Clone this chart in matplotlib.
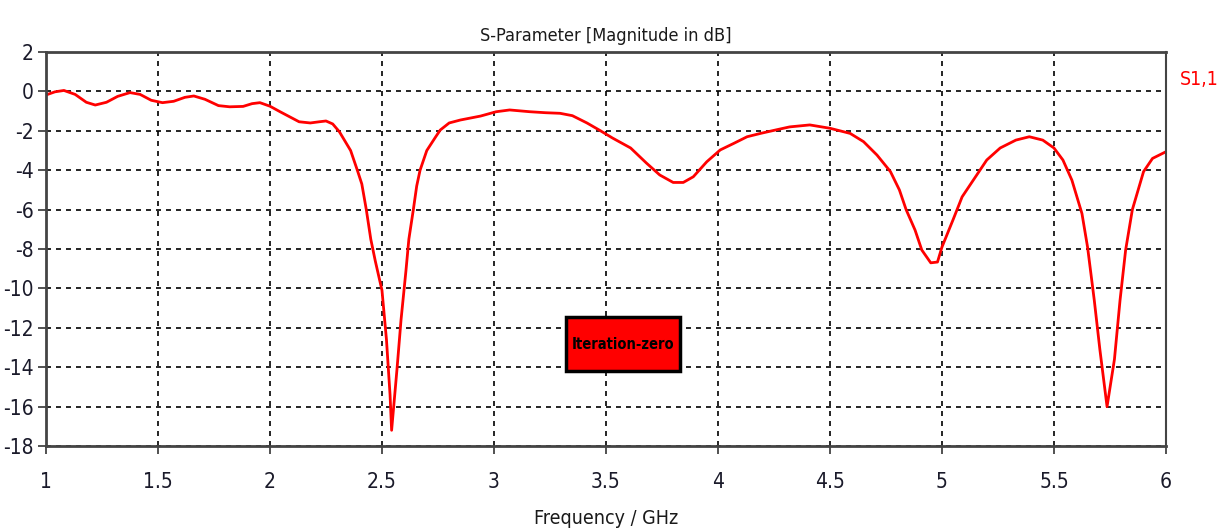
import numpy as np
import matplotlib.pyplot as plt
from matplotlib.patches import Rectangle

# S1,1 magnitude (dB)
freq = [1.00, 1.04, 1.08, 1.13, 1.18, 1.22, 1.27, 1.32, 1.375, 1.42, 1.47, 1.52,
        1.57, 1.62, 1.66, 1.71, 1.77, 1.82, 1.88, 1.92, 1.955, 2.00, 2.045, 2.09,
        2.13, 2.18, 2.22, 2.25, 2.28, 2.31, 2.36, 2.39, 2.41, 2.43, 2.45, 2.47,
        2.50, 2.52, 2.536, 2.543, 2.567, 2.585, 2.607, 2.62, 2.64, 2.655, 2.67,
        2.70, 2.74, 2.76, 2.80, 2.85, 2.94, 3.01, 3.07, 3.16, 3.23, 3.295, 3.35,
        3.415, 3.47, 3.53, 3.61, 3.68, 3.74, 3.80, 3.845, 3.89, 3.95, 4.01,
        4.07, 4.13, 4.19, 4.26, 4.32, 4.41, 4.50, 4.59, 4.65, 4.71, 4.77, 4.81,
        4.84, 4.88, 4.91, 4.95, 4.98, 5.00, 5.05, 5.09, 5.15, 5.20, 5.26, 5.33,
        5.39, 5.45, 5.50, 5.54, 5.58, 5.625, 5.65, 5.68, 5.705, 5.737, 5.77,
        5.795, 5.82, 5.85, 5.90, 5.94, 6.00]
s11 = [-0.18, -0.02, 0.05, -0.15, -0.55, -0.69, -0.55, -0.25, -0.06, -0.15,
       -0.45, -0.57, -0.50, -0.30, -0.23, -0.40, -0.72, -0.78, -0.76, -0.62,
       -0.57, -0.75, -1.03, -1.30, -1.54, -1.60, -1.54, -1.50, -1.65, -2.05,
       -3.0, -4.0, -4.7, -6.0, -7.5, -8.6, -10.1, -12.6, -15.4, -17.2, -14.1,
       -11.6, -9.1, -7.5, -6.0, -4.8, -4.0, -3.0, -2.3, -1.96, -1.6, -1.45,
       -1.25, -1.03, -0.94, -1.03, -1.08, -1.11, -1.23, -1.6, -1.96, -2.37,
       -2.87, -3.63, -4.24, -4.62, -4.62, -4.33, -3.57, -2.97, -2.64, -2.3,
       -2.13, -1.95, -1.8, -1.7, -1.87, -2.13, -2.55, -3.23, -4.07, -5.0, -6.0,
       -7.04, -8.05, -8.7, -8.66, -7.9, -6.5, -5.35, -4.33, -3.48, -2.87,
       -2.47, -2.3, -2.47, -2.87, -3.48, -4.5, -6.2, -7.9, -10.6, -13.1, -16.0,
       -13.6, -10.6, -8.05, -6.0, -4.07, -3.4, -3.06]

xticks = [1, 1.5, 2, 2.5, 3, 3.5, 4, 4.5, 5, 5.5, 6]
xticklabels = ['1', '1.5', '2', '2.5', '3', '3.5', '4', '4.5', '5', '5.5', '6']
yticks = list(range(-18, 3, 2))

plt.rcParams['font.family'] = ['DejaVu Sans']
plt.rcParams['font.stretch'] = 'condensed'
plt.rcParams['axes.unicode_minus'] = False

fig = plt.figure(figsize=(12.2, 5.31), dpi=100)
ax = fig.add_axes([0.0377, 0.160, 0.918, 0.742])

ax.plot(freq, s11, color='#ff0000', linewidth=2)

ax.set_xlim(1, 6)
ax.set_ylim(-18, 2)
ax.set_xticks(xticks)
ax.set_xticklabels(xticklabels)
ax.set_yticks(yticks)
ax.tick_params(labelsize=15, colors='#333333', length=6, width=1.2)
for lbl in ax.get_xticklabels() + ax.get_yticklabels():
    lbl.set_color('#1a1a2a')
ax.tick_params(axis='x', pad=13)
ax.tick_params(axis='y', pad=3)

ax.grid(True, color='black', linestyle=(0, (3, 3)), linewidth=1.2)
for s in ['left', 'bottom', 'top']:
    ax.spines[s].set_color('#444444')
    ax.spines[s].set_linewidth(2)
ax.spines['right'].set_color('#444444')
ax.spines['right'].set_linewidth(1.5)

ax.set_title('S-Parameter [Magnitude in dB]', fontsize=13, color='#1a1a1a', pad=8)
ax.set_xlabel('Frequency / GHz', fontsize=14, color='#1a1a1a', labelpad=12)

fig.text(0.983, 0.85, 'S1,1', color='#ff0000', fontsize=14, ha='center', va='center')

# "Iteration-zero" label box
ax.add_patch(Rectangle((0.464, 0.190), 0.102, 0.137, transform=ax.transAxes,
                       facecolor='#ff0000', edgecolor='black', linewidth=2.5, zorder=5))
ax.text(0.515, 0.2585, 'Iteration-zero', transform=ax.transAxes, fontsize=10.5,
        fontweight='bold', color='black', ha='center', va='center', zorder=6)

fig.savefig('out.png', dpi=100)
